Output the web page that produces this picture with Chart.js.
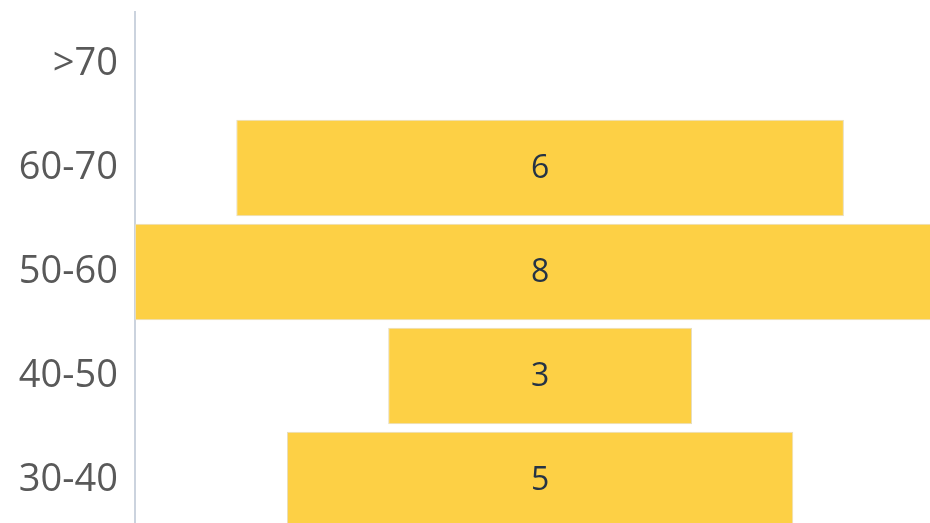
<!DOCTYPE html>
<html>
<head>
<meta charset="utf-8">
<script src="https://cdn.jsdelivr.net/npm/chart.js@4/dist/chart.umd.min.js"></script>
<style>
html,body{margin:0;padding:0;background:#fff;overflow:hidden;width:930px;height:523px;}
#wrap{position:relative;width:930px;height:540px;}
</style>
</head>
<body>
<div id="wrap"><canvas id="c" width="930" height="540"></canvas></div>
<script>
const categories = [">70", "60-70", "50-60", "40-50", "30-40"];
const values = [0, 6, 8, 3, 5];

const floating = values.map(v => v > 0 ? [-v / 2, v / 2] : null);

const centerLabels = {
  id: 'centerLabels',
  afterDatasetsDraw(chart) {
    const ctx = chart.ctx;
    const meta = chart.getDatasetMeta(0);
    const xs = chart.scales.x;
    ctx.save();
    ctx.font = '32px "Open Sans"';
    ctx.fillStyle = '#253345';
    ctx.textAlign = 'center';
    ctx.textBaseline = 'middle';
    meta.data.forEach((bar, i) => {
      if (!values[i]) return;
      ctx.fillText(String(values[i]), xs.getPixelForValue(0), bar.y + 1);
    });
    ctx.restore();
  }
};

new Chart(document.getElementById('c'), {
  type: 'bar',
  data: {
    labels: categories,
    datasets: [{
      data: floating,
      backgroundColor: '#FDD045',
      borderColor: '#E6DDC0',
      borderWidth: 1,
      borderSkipped: false,
      barPercentage: 0.93,
      categoryPercentage: 1.0
    }]
  },
  options: {
    indexAxis: 'y',
    responsive: false,
    animation: false,
    devicePixelRatio: 1,
    layout: { padding: { top: 12, bottom: 8, left: 0, right: 0 } },
    plugins: { legend: { display: false }, tooltip: { enabled: false } },
    scales: {
      x: {
        display: false,
        min: -4.0,
        max: 3.85
      },
      y: {
        afterFit(scale) { scale.width = 135; scale.paddingTop = 0; scale.paddingBottom = 0; },
        grid: { display: false, drawTicks: false },
        border: { display: true, color: '#CBD3DE', width: 2 },
        ticks: {
          padding: 17,
          color: '#595959',
          font: { family: '"Open Sans"', size: 38 }
        }
      }
    }
  },
  plugins: [centerLabels]
});
</script>
</body>
</html>
